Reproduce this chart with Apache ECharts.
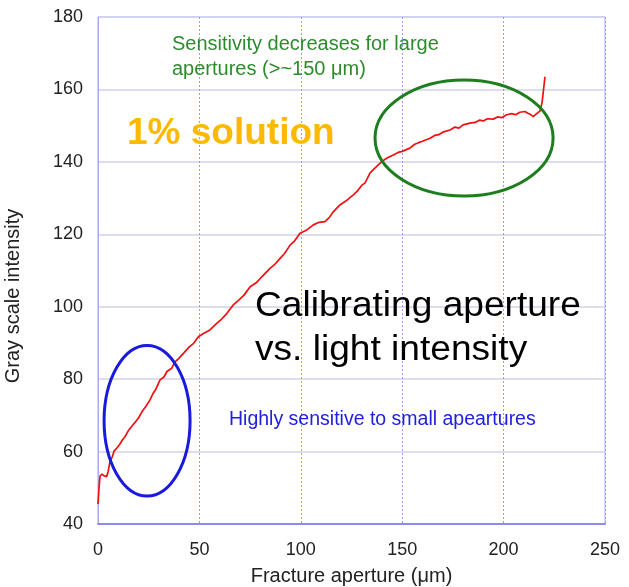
<!DOCTYPE html>
<html><head><meta charset="utf-8">
<script src="https://cdn.jsdelivr.net/npm/echarts@6/dist/echarts.min.js"></script>
<style>html,body{margin:0;padding:0;background:#fff}#c{width:629px;height:587px}</style>
</head><body><div id="c"></div>
<script>
const apertureUm = [0,0.5,1,2,3,4.3,5,5.9,7,8,9.2,10.5,12,13.3,15,17,19.9,22,23.5,25.6,27,28.5,30.6,32.5,34,36.3,38,40,42.9,45,47,49.5,52,55.2,58.5,61,63,66.7,69,72,75,78,81,84.8,87,90,92,94.7,97,99.6,103,106.2,109,111.9,114,116,119.3,122,125.9,128,130,131.7,134.1,136,139,141,143,145.6,148,150,153.8,156,158,160,163.7,166,168,170,173.6,176,178,180,183.4,186,188,190,192,194.9,197,199,201.5,204,206,208,210.5,212,213,214.6,216,218,219,220.4];
const grayIntensity = [45.5,50,53.2,53.8,53.3,53.1,54.5,57.2,58.5,60.2,60.9,61.8,63.2,64.1,65.8,67.2,69.2,71.3,72.4,74.2,75.9,77.2,79.8,80.6,82.1,83.0,84.8,85.8,87.6,88.9,89.8,91.7,92.6,93.6,95.4,96.6,97.8,100.5,101.6,103.2,105.5,106.6,108.4,110.6,111.6,113.5,114.7,117,118.2,120.3,121.2,122.6,123.3,123.5,124.6,126.2,128.1,129.1,130.9,132.0,133.5,134.2,136.9,138.0,139.6,140.5,141.2,141.9,142.6,142.9,143.8,144.8,145.3,145.7,146.5,147.3,147.5,148.2,148.8,149.6,149.3,150.2,150.7,150.9,151.5,151.3,151.9,151.8,152.4,152.2,153.0,153.3,153.0,153.7,153.9,153.4,153.2,152.5,153.2,154.1,156.5,163.5];
const xTicks = [0,50,100,150,200,250];
const yTicks = [40,60,80,100,120,140,160,180];
const ellipses = [
  {cx: 24.2, cy: 68.5, rx: 21.2, ry: 20.8, color: '#1a1adf'},
  {cx: 180.5, cy: 146.6, rx: 43.9, ry: 16.0, color: '#1e7d1e'}
];

const chart = echarts.init(document.getElementById('c'), null, {renderer: 'canvas'});
const font = 'Arial, "Liberation Sans", sans-serif';
chart.setOption({
  animation: false,
  grid: {left: 98, right: 24, top: 17, bottom: 63, show: true, borderColor: '#a8a8ee', borderWidth: 1, outerBoundsMode: 'none', containLabel: false},
  xAxis: {
    type: 'value', min: xTicks[0], max: xTicks[xTicks.length-1], interval: 50,
    name: 'Fracture aperture (\u03bcm)', nameLocation: 'middle', nameGap: 42,
    nameTextStyle: {fontFamily: font, fontSize: 20, color: '#222'},
    axisLine: {show: true, lineStyle: {color: '#8c8cf0', width: 2}},
    axisTick: {show: false},
    axisLabel: {fontFamily: font, fontSize: 18, color: '#222', margin: 17},
    splitLine: {show: true, lineStyle: {color: '#9a9af2', type: [2, 2], width: 1}}
  },
  yAxis: {
    type: 'value', min: yTicks[0], max: yTicks[yTicks.length-1], interval: 20,
    axisLine: {show: true, lineStyle: {color: '#a8a8ee', width: 1}},
    axisTick: {show: false},
    axisLabel: {fontFamily: font, fontSize: 18, color: '#222', margin: 15},
    splitLine: {show: true, lineStyle: {color: '#d2d2e8', width: 1.5}}
  },
  series: [{
    type: 'line', showSymbol: false, symbol: 'none',
    data: apertureUm.map((x, i) => [x, grayIntensity[i]]),
    lineStyle: {color: '#f01010', width: 1.7}
  }]
});

const g = [];
ellipses.forEach(e => {
  const c = chart.convertToPixel({gridIndex: 0}, [e.cx, e.cy]);
  const r = chart.convertToPixel({gridIndex: 0}, [e.cx + e.rx, e.cy + e.ry]);
  g.push({type: 'ellipse', shape: {cx: c[0], cy: c[1], rx: Math.abs(r[0]-c[0]), ry: Math.abs(c[1]-r[1])},
    style: {fill: 'none', stroke: e.color, lineWidth: 3}, z: 10});
});
g.push({type: 'text', x: 13, y: 296, rotation: Math.PI/2, z: 11, style: {text: 'Gray scale intensity', fill: '#222', font: '20px ' + font, align: 'center', verticalAlign: 'middle'}});
g.push({type: 'text', x: 172, y: 32, z: 11, style: {text: 'Sensitivity decreases for large\napertures (>~150 \u03bcm)', fill: '#2c8c2c', font: '20px ' + font, lineHeight: 25}});
g.push({type: 'text', x: 127, y: 115, z: 11, style: {text: '1% solution', fill: '#fcb900', font: 'bold 37px ' + font}});
g.push({type: 'text', x: 255, y: 284, scaleX: 1.06, z: 11, style: {text: 'Calibrating aperture\nvs. light intensity', fill: '#000', font: '35px ' + font, lineHeight: 44}});
g.push({type: 'text', x: 229, y: 410, z: 11, style: {text: 'Highly sensitive to small apeartures', fill: '#2020e0', font: '19.5px ' + font}});
chart.setOption({graphic: g});
</script></body></html>
